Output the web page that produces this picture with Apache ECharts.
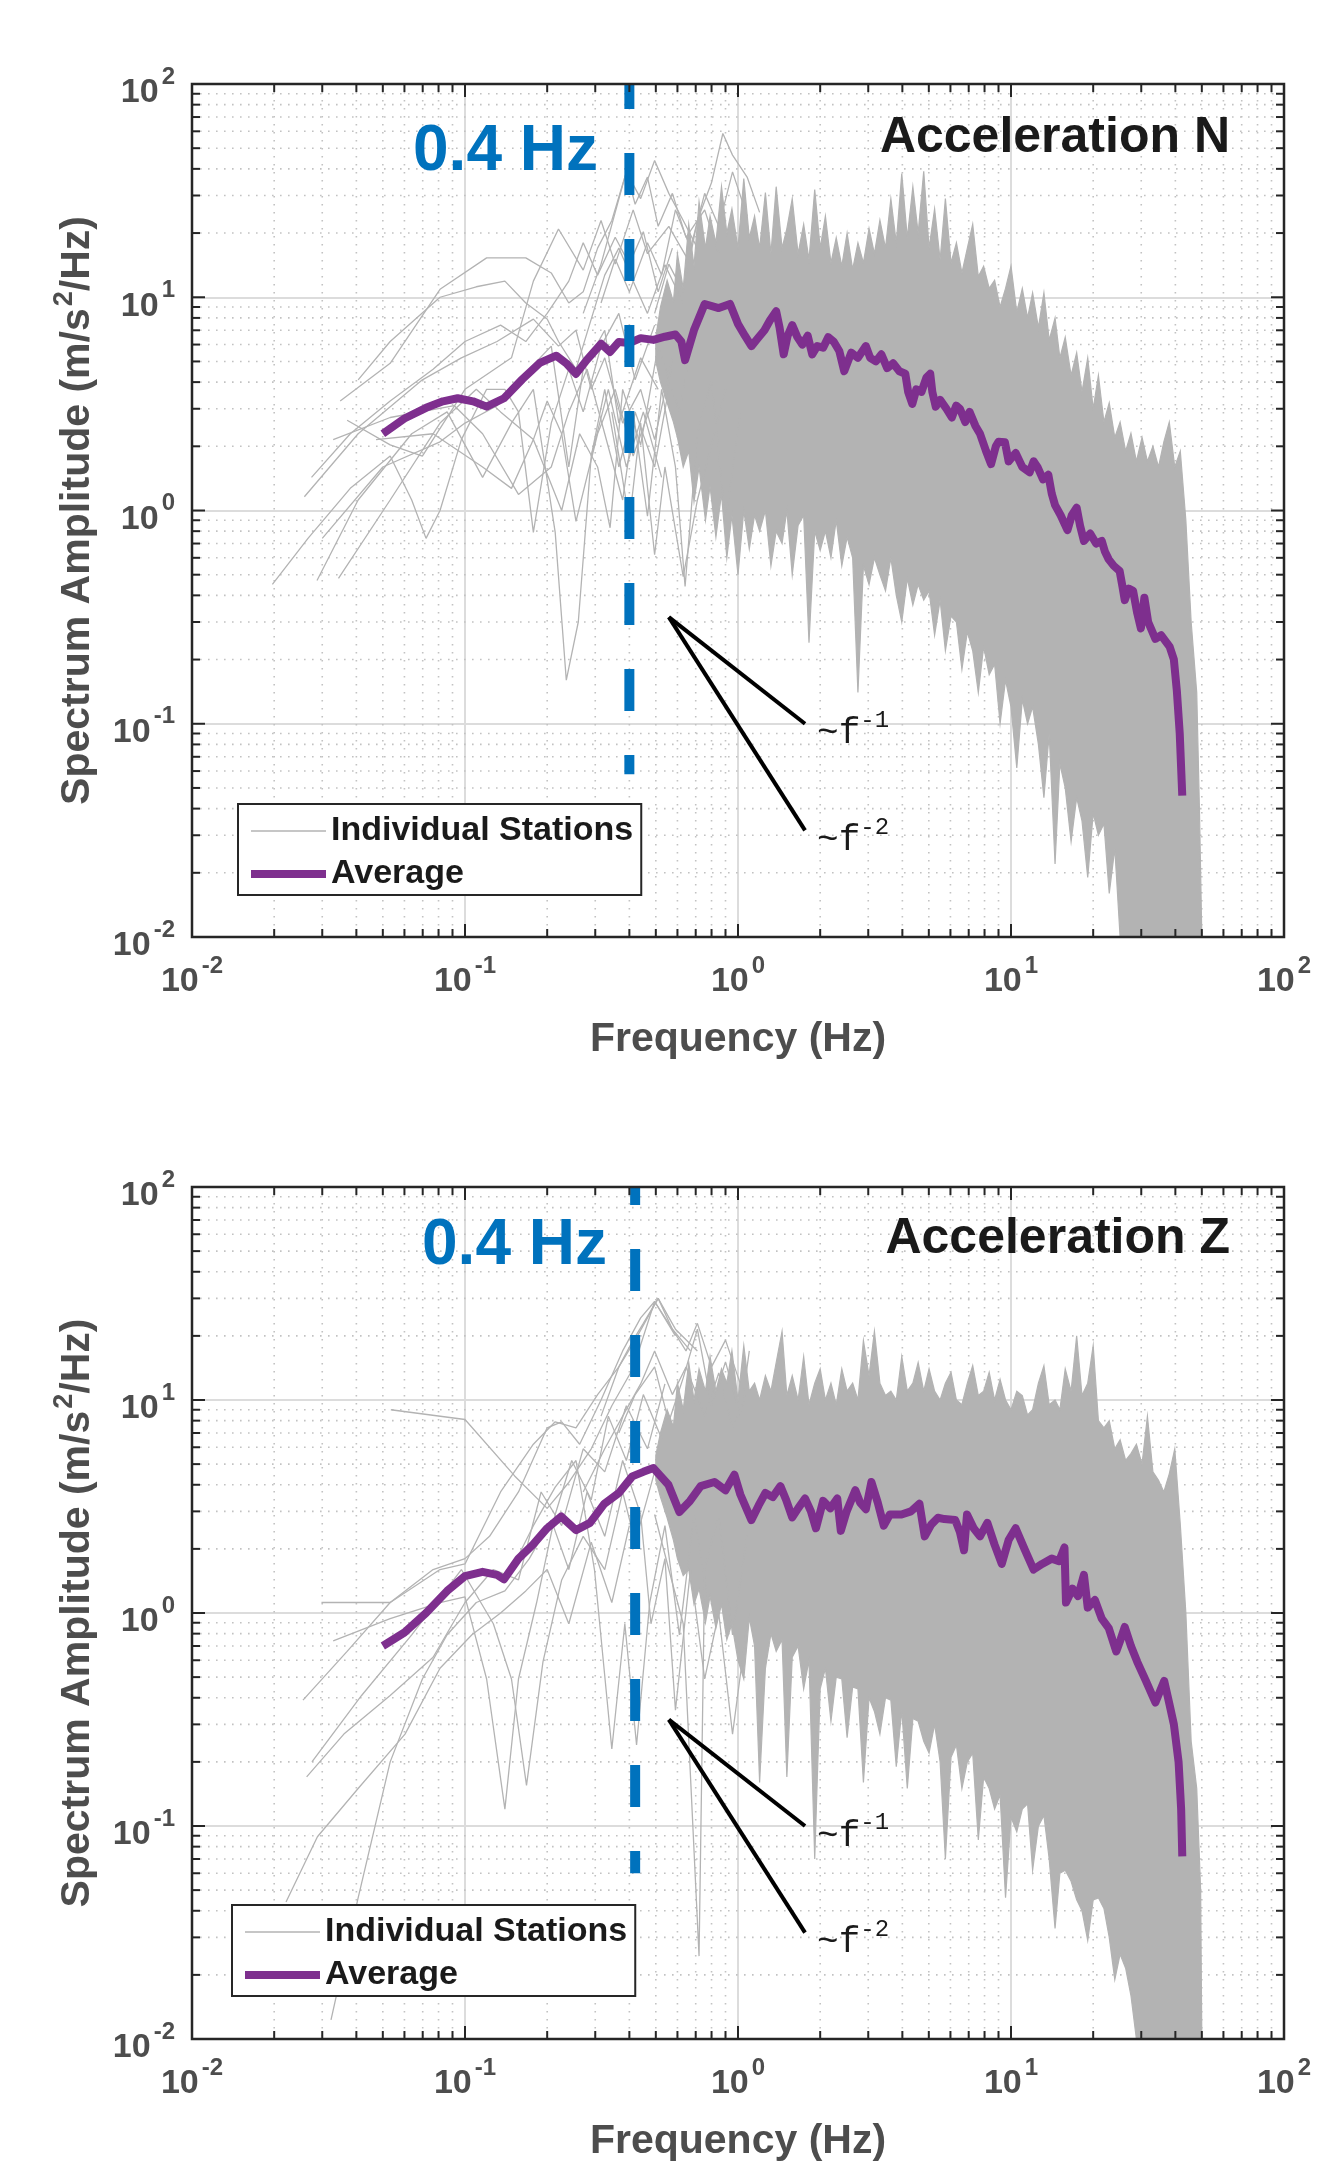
<!DOCTYPE html>
<html lang="en">
<head>
<meta charset="UTF-8" />
<title>Spectrum Amplitude - Acceleration N / Z</title>
<style>
  * { margin: 0; padding: 0; }
  body { background: #fff; }
  #main { width: 1317px; height: 2167px; }
</style>
</head>
<body>
<div id="main"></div>
<script src="https://cdn.jsdelivr.net/npm/echarts@6/dist/echarts.min.js"></script>
<script>
// ---- data: [frequency Hz, amplitude m/s^2/Hz] ----

// average curves
var avgN = [[0.05,2.29],[0.06,2.7],[0.072,3.03],[0.083,3.25],[0.094,3.36],[0.107,3.25],[0.12,3.07],[0.139,3.36],[0.162,4.12],[0.188,4.92],[0.216,5.32],[0.235,4.9],[0.255,4.37],[0.279,5.07],[0.315,6.05],[0.34,5.54],[0.366,6.17],[0.4,6.1],[0.44,6.43],[0.49,6.31],[0.54,6.53],[0.59,6.69],[0.62,6.2],[0.64,5.07],[0.69,7.02],[0.755,9.3],[0.85,8.9],[0.935,9.3],[1.0,7.5],[1.06,6.6],[1.12,5.9],[1.18,6.4],[1.25,7.0],[1.31,7.8],[1.38,8.6],[1.42,7.2],[1.47,5.4],[1.52,6.6],[1.58,7.4],[1.65,6.5],[1.72,6.0],[1.8,6.6],[1.87,5.4],[1.95,5.9],[2.05,5.8],[2.14,6.5],[2.24,6.2],[2.35,5.6],[2.45,4.5],[2.6,5.5],[2.75,5.2],[2.94,5.9],[3.05,5.2],[3.2,5.0],[3.35,5.4],[3.52,4.65],[3.7,4.9],[3.9,4.5],[4.1,4.38],[4.2,3.6],[4.35,3.16],[4.5,3.7],[4.7,3.6],[4.9,4.2],[5.06,4.38],[5.15,3.6],[5.3,3.07],[5.5,3.3],[5.8,3.0],[6.07,2.73],[6.3,3.1],[6.5,3.0],[6.8,2.6],[7.05,2.9],[7.4,2.5],[7.7,2.29],[8.1,1.9],[8.45,1.65],[8.8,2.0],[9.0,2.1],[9.5,2.09],[9.8,1.7],[10.4,1.86],[11.0,1.6],[11.7,1.51],[12.1,1.7],[12.5,1.6],[13.1,1.4],[13.7,1.47],[14.1,1.2],[14.5,1.06],[15.2,0.95],[16.1,0.81],[16.7,0.95],[17.4,1.03],[17.9,0.85],[18.5,0.72],[19.5,0.78],[20.5,0.7],[21.5,0.72],[22.1,0.64],[22.8,0.59],[23.8,0.55],[25,0.52],[25.6,0.44],[26.1,0.38],[27,0.43],[28,0.42],[29,0.33],[29.9,0.28],[30.8,0.39],[31.8,0.3],[33.8,0.25],[35.5,0.26],[38.1,0.23],[39.5,0.2],[40.5,0.143],[41.5,0.09],[42.4,0.046]];
var avgZ = [[0.05,0.70],[0.06,0.81],[0.072,1.0],[0.086,1.27],[0.1,1.49],[0.116,1.56],[0.131,1.51],[0.139,1.44],[0.157,1.8],[0.177,2.09],[0.2,2.5],[0.225,2.84],[0.255,2.45],[0.287,2.65],[0.324,3.26],[0.366,3.66],[0.41,4.38],[0.45,4.6],[0.49,4.79],[0.556,4.0],[0.61,2.98],[0.667,3.36],[0.73,3.94],[0.82,4.12],[0.9,3.77],[0.97,4.46],[1.02,3.6],[1.12,2.73],[1.19,3.2],[1.26,3.66],[1.34,3.5],[1.43,3.94],[1.5,3.4],[1.58,2.81],[1.66,3.1],[1.76,3.45],[1.85,3.0],[1.93,2.5],[2.05,3.36],[2.18,3.1],[2.31,3.45],[2.38,2.43],[2.5,3.0],[2.69,3.77],[2.8,3.3],[2.94,3.07],[3.08,4.12],[3.25,3.3],[3.42,2.57],[3.6,2.9],[3.97,2.9],[4.3,3.0],[4.62,3.26],[4.83,2.29],[5.1,2.6],[5.4,2.8],[5.7,2.76],[6.25,2.73],[6.5,2.4],[6.73,1.97],[6.9,2.9],[7.3,2.5],[7.7,2.29],[8.19,2.65],[8.7,2.1],[9.25,1.7],[9.8,2.2],[10.4,2.5],[11.2,2.0],[12.1,1.6],[13.0,1.7],[14.1,1.8],[15.0,1.75],[15.7,2.03],[15.9,1.12],[16.8,1.3],[17.6,1.2],[18.5,1.51],[19.1,1.06],[20.3,1.15],[21.5,0.94],[22.8,0.85],[24.3,0.66],[25.2,0.75],[26.1,0.86],[27.5,0.7],[29,0.59],[31.2,0.48],[33.8,0.38],[36.4,0.48],[38.1,0.37],[39.5,0.3],[41.1,0.2],[42,0.12],[42.4,0.072]];

// dense cloud of station spectra above ~0.5 Hz: upper and lower outline
var bandTopN = [[0.5,6.5],[0.52,9],[0.55,12],[0.58,9.5],[0.6,16],[0.63,11],[0.66,22],[0.69,14],[0.72,28],[0.76,17],[0.79,24],[0.83,18],[0.87,33],[0.91,20],[0.95,26],[1.0,17],[1.05,36],[1.1,19],[1.15,24],[1.2,17],[1.26,31],[1.32,16],[1.38,33],[1.45,17],[1.51,21],[1.58,29],[1.66,16],[1.74,22],[1.82,15],[1.91,32],[2.0,17],[2.09,24],[2.19,14.5],[2.29,19],[2.4,14],[2.51,20],[2.63,13.5],[2.75,18],[2.88,14.5],[3.02,21],[3.16,16],[3.31,23],[3.47,17],[3.63,29],[3.8,18],[3.98,38],[4.17,19],[4.37,33],[4.57,20],[4.79,39],[5.01,17],[5.25,26],[5.5,15],[5.75,29],[6.03,14.5],[6.31,18],[6.61,13],[6.92,17],[7.24,22],[7.59,12.5],[7.94,14],[8.32,11],[8.71,12],[9.12,9],[9.55,11],[10,14],[10.5,8.5],[11,11],[11.5,8],[12,10.5],[12.6,7.2],[13.2,10.5],[13.8,6.3],[14.5,8],[15.1,5.2],[15.8,6.5],[16.6,4.3],[17.4,5.5],[18.2,3.6],[19.1,5.2],[20,3.0],[20.9,4.3],[21.9,2.6],[22.9,3.2],[24,2.2],[25.1,2.6],[26.3,1.9],[27.5,2.3],[28.8,1.7],[30.2,2.2],[31.6,1.7],[33.1,2.0],[34.7,1.6],[36.3,2.1],[38,2.6],[39.8,1.6],[41.7,1.9],[43.7,0.9],[45.7,0.3],[47.9,0.14],[49,0.04],[50,0.01]];
var bandLowN = [[0.5,5.0],[0.52,4],[0.55,3.2],[0.58,2.6],[0.6,2.2],[0.63,1.6],[0.66,1.9],[0.69,1.1],[0.72,1.6],[0.76,0.9],[0.79,1.3],[0.83,0.75],[0.87,1.2],[0.91,0.6],[0.95,0.95],[1.0,0.5],[1.05,1.0],[1.1,0.66],[1.15,0.95],[1.2,0.8],[1.26,1.0],[1.32,0.55],[1.38,0.8],[1.45,0.7],[1.51,1.0],[1.58,0.5],[1.66,0.85],[1.74,0.95],[1.82,0.24],[1.91,0.8],[2.0,0.65],[2.09,0.8],[2.19,0.6],[2.29,0.9],[2.4,0.55],[2.51,0.75],[2.63,0.6],[2.75,0.14],[2.88,0.55],[3.02,0.45],[3.16,0.6],[3.31,0.5],[3.47,0.42],[3.63,0.6],[3.8,0.4],[3.98,0.3],[4.17,0.48],[4.37,0.36],[4.57,0.45],[4.79,0.38],[5.01,0.42],[5.25,0.26],[5.5,0.38],[5.75,0.22],[6.03,0.32],[6.31,0.3],[6.61,0.18],[6.92,0.27],[7.24,0.22],[7.59,0.14],[7.94,0.23],[8.32,0.17],[8.71,0.19],[9.12,0.1],[9.55,0.16],[10,0.12],[10.5,0.062],[11,0.13],[11.5,0.1],[12,0.12],[12.6,0.08],[13.2,0.045],[13.8,0.09],[14.5,0.022],[15.1,0.065],[15.8,0.05],[16.6,0.028],[17.4,0.045],[18.2,0.035],[19.1,0.019],[20,0.038],[20.9,0.03],[21.9,0.034],[22.9,0.016],[24,0.026],[25.1,0.01],[50,0.01]];
var bandTopZ = [[0.5,5.5],[0.52,7],[0.55,9],[0.58,7.5],[0.6,12],[0.63,9],[0.66,15],[0.69,10],[0.72,14],[0.76,11],[0.79,16],[0.83,11],[0.87,14],[0.91,12],[0.95,17],[1.0,10],[1.05,18],[1.1,11],[1.15,12],[1.2,10],[1.26,13],[1.32,11],[1.38,15],[1.45,21],[1.51,10.5],[1.58,13],[1.66,10],[1.74,16],[1.82,9.5],[1.91,12],[2.0,14],[2.09,10],[2.19,12],[2.29,9.5],[2.4,14],[2.51,11],[2.63,12],[2.75,10],[2.88,19],[3.02,13],[3.16,21],[3.31,12],[3.47,10.5],[3.63,11],[3.8,10],[3.98,16],[4.17,11],[4.37,12],[4.57,15],[4.79,11],[5.01,14],[5.25,11],[5.5,10],[5.75,12],[6.03,13.5],[6.31,10],[6.61,9.5],[6.92,12],[7.24,14.5],[7.59,10.5],[7.94,11],[8.32,13.5],[8.71,10],[9.12,12.5],[9.55,10],[10,9],[10.5,11],[11,10.5],[11.5,8.5],[12,9],[12.6,12],[13.2,14.5],[13.8,9.5],[14.5,10],[15.1,9],[15.8,14],[16.6,11],[17.4,20],[18.2,10.5],[19.1,12],[20,18],[20.9,8],[21.9,7.4],[22.9,8],[24,5.9],[25.1,6.5],[26.3,5.2],[27.5,5.6],[28.8,6.2],[30.2,5],[31.6,8.4],[33.1,4.6],[34.7,4.2],[36.3,3.7],[38,4.5],[39.8,5.9],[41.7,2.6],[43.7,1.0],[45.7,0.25],[47.9,0.15],[49.5,0.05],[50,0.01]];
var bandLowZ = [[0.5,4.2],[0.52,3.5],[0.55,2.8],[0.58,2.2],[0.6,1.8],[0.63,1.5],[0.66,1.6],[0.69,1.1],[0.72,1.3],[0.76,0.9],[0.79,1.2],[0.83,0.85],[0.87,1.1],[0.91,0.75],[0.95,0.89],[1.0,0.6],[1.05,0.49],[1.1,0.95],[1.15,0.7],[1.2,0.16],[1.26,0.55],[1.32,0.8],[1.38,0.66],[1.45,0.75],[1.51,0.17],[1.58,0.62],[1.66,0.7],[1.74,0.44],[1.82,0.6],[1.91,0.07],[2.0,0.44],[2.09,0.55],[2.19,0.31],[2.29,0.5],[2.4,0.49],[2.51,0.26],[2.63,0.45],[2.75,0.44],[2.88,0.16],[3.02,0.4],[3.16,0.345],[3.31,0.27],[3.47,0.4],[3.63,0.39],[3.8,0.19],[3.98,0.35],[4.17,0.15],[4.37,0.32],[4.57,0.31],[4.79,0.25],[5.01,0.22],[5.25,0.3],[5.5,0.2],[5.75,0.07],[6.03,0.21],[6.31,0.24],[6.61,0.15],[6.92,0.2],[7.24,0.22],[7.59,0.086],[7.94,0.17],[8.32,0.15],[8.71,0.12],[9.12,0.14],[9.55,0.046],[10,0.11],[10.5,0.094],[11,0.12],[11.5,0.127],[12,0.062],[12.6,0.1],[13.2,0.112],[13.8,0.07],[14.5,0.033],[15.1,0.06],[15.8,0.062],[16.6,0.055],[17.4,0.045],[18.2,0.04],[19.1,0.029],[20,0.045],[20.9,0.046],[21.9,0.041],[22.9,0.03],[24,0.019],[25.1,0.025],[26.3,0.0215],[27.5,0.016],[28.8,0.01],[50,0.01]];

// individual station lines, low-frequency part (N)
var stationsN = [
  [[0.0349,3.26],[0.0532,4.9],[0.081,10.9],[0.12,15.3],[0.167,15.3],[0.207,13],[0.24,9.4],[0.271,10.6],[0.306,17],[0.345,22.9],[0.39,38.7],[0.44,29],[0.495,43.8],[0.558,30.7],[0.63,22.9],[0.71,17]],
  [[0.0406,4.1],[0.0532,6.2],[0.081,10],[0.11,11.2],[0.14,11.9],[0.167,9.4],[0.2,7.9],[0.22,6.2],[0.255,4.6],[0.29,7.9],[0.325,12.7],[0.366,17],[0.413,11.9],[0.466,8.4],[0.54,14.2],[0.63,9.4]],
  [[0.0274,1.43],[0.038,2.29],[0.0532,3.26],[0.0764,4.6],[0.1,6.2],[0.135,7.4],[0.167,6.2],[0.2,8.4],[0.24,11.9],[0.271,18],[0.306,12.7],[0.355,19.1],[0.40,14.3],[0.45,20.3],[0.51,10.6],[0.575,17]],
  [[0.0197,0.45],[0.0266,0.74],[0.038,1.27],[0.0532,1.8],[0.0638,1.12],[0.072,0.74],[0.081,1.0],[0.097,2.15],[0.12,3.7],[0.14,3.7],[0.157,2.9],[0.178,0.79],[0.207,2.57],[0.24,4.6],[0.271,2.9],[0.315,5.9],[0.366,8.4],[0.42,4.1],[0.495,7.4]],
  [[0.0258,1.16],[0.0406,2.29],[0.0698,4.1],[0.097,5.2],[0.131,6.2],[0.178,7.9],[0.22,5.9],[0.255,7.0],[0.29,3.7],[0.325,5.2],[0.378,2.57],[0.44,3.7],[0.495,2.15],[0.575,5.2]],
  [[0.0287,0.47],[0.0406,1.12],[0.0638,2.29],[0.086,2.9],[0.116,1.43],[0.148,2.57],[0.178,3.7],[0.214,0.79],[0.235,0.16],[0.26,0.30],[0.29,1.8],[0.335,3.7],[0.39,1.6],[0.45,2.9],[0.525,1.43]],
  [[0.0344,0.48],[0.0532,1.12],[0.081,2.57],[0.11,3.7],[0.135,2.9],[0.178,2.15],[0.2,3.26],[0.226,2.29],[0.255,0.89],[0.306,2.29],[0.355,3.7],[0.413,1.8],[0.48,3.1]],
  [[0.030,0.74],[0.050,1.6],[0.081,2.1],[0.1,2.57],[0.131,3.1],[0.172,4.6],[0.207,5.9],[0.24,1.6],[0.271,4.6],[0.325,7.0],[0.366,2.57],[0.44,5.2],[0.51,3.7]],
  [[0.037,2.65],[0.0532,2.03],[0.0698,1.8],[0.1,3.7],[0.148,5.2],[0.178,11.9],[0.22,20.9],[0.271,13.4],[0.315,22.9],[0.355,14.3],[0.413,25.7],[0.466,16],[0.558,21.5],[0.67,14.3]],
  [[0.0329,2.15],[0.0532,2.73],[0.0914,3.1],[0.116,2.29],[0.157,1.19],[0.207,1.6],[0.24,2.9],[0.28,4.6],[0.325,2.29],[0.378,1.12],[0.42,2.9],[0.495,1.6],[0.575,4.6]],
  [[0.0472,2.15],[0.0764,2.29],[0.116,1.6],[0.148,1.27],[0.178,2.15],[0.226,1.0],[0.263,2.29],[0.306,1.6],[0.34,0.83],[0.378,3.7],[0.44,2.03],[0.51,5.9],[0.61,2.9],[0.71,8.4]],
  [[0.29,1.8],[0.325,3.7],[0.366,1.6],[0.413,2.9],[0.466,0.94],[0.525,3.7],[0.59,1.6],[0.64,0.44],[0.71,2.3],[0.8,4.1],[0.9,0.89],[1.02,2.9]],
  [[0.315,9.4],[0.355,15.1],[0.40,10.6],[0.466,18],[0.525,12.7],[0.59,25.7],[0.67,17],[0.755,30.7],[0.85,21.5],[0.955,38.7],[1.08,24]],
  [[0.495,8.4],[0.558,14.3],[0.63,10.6],[0.71,22.9],[0.8,34.5],[0.88,58.6],[0.955,46.4],[1.08,36.6],[1.2,25]],
  [[0.271,8.4],[0.315,14.3],[0.366,28.9],[0.39,38.7],[0.42,27.3],[0.466,36.6],[0.51,21.5],[0.575,30.7],[0.645,19.1],[0.755,25.7],[0.85,16]],
  [[0.345,2.9],[0.40,0.89],[0.44,2.57],[0.495,0.62],[0.54,1.6],[0.63,0.49],[0.71,1.12],[0.8,2.03],[0.9,3.7]]
];
// individual station lines, low-frequency part (Z)
var stationsZ = [
  [[0.0535,9.0],[0.1,8.1],[0.152,4.4],[0.2,3.1],[0.24,4.1],[0.29,5.9],[0.345,9.4],[0.413,14.1],[0.495,29],[0.575,21.5],[0.67,17]],
  [[0.0298,1.12],[0.0532,1.12],[0.081,1.6],[0.1,1.7],[0.135,3.7],[0.178,6.2],[0.214,7.9],[0.255,7.4],[0.306,10.6],[0.366,14.3],[0.42,19.1],[0.51,30],[0.59,21.5],[0.71,17]],
  [[0.0255,0.39],[0.037,0.66],[0.0532,1.12],[0.0764,1.6],[0.1,1.8],[0.123,2.29],[0.157,3.7],[0.2,7.4],[0.226,7.9],[0.263,6.2],[0.315,10],[0.378,17],[0.44,24.3],[0.495,29],[0.59,20]],
  [[0.0263,0.17],[0.036,0.27],[0.0532,0.41],[0.0764,0.62],[0.1,1.12],[0.127,1.6],[0.157,1.43],[0.19,3.7],[0.226,2.57],[0.271,5.9],[0.325,4.6],[0.39,9.4],[0.466,5.9],[0.54,11.9]],
  [[0.0329,0.74],[0.0532,0.94],[0.081,1.12],[0.1,1.19],[0.12,0.49],[0.14,0.12],[0.157,0.49],[0.183,1.12],[0.214,2.9],[0.246,5.2],[0.29,3.4],[0.335,8.4],[0.39,5.2],[0.45,10.6],[0.525,6.6]],
  [[0.0275,0.2],[0.0418,0.41],[0.0638,0.79],[0.097,1.6],[0.127,0.89],[0.148,0.49],[0.168,0.155],[0.193,0.59],[0.226,1.43],[0.271,2.29],[0.325,1.6],[0.378,3.7],[0.42,2.15],[0.495,4.6]],
  [[0.0323,0.0123],[0.0406,0.046],[0.0532,0.2],[0.0698,0.49],[0.086,0.79],[0.11,1.12],[0.14,1.27],[0.172,1.8],[0.207,2.73],[0.24,1.6],[0.28,3.7],[0.325,2.29],[0.378,5.2],[0.44,2.9]],
  [[0.0221,0.044],[0.0288,0.089],[0.0406,0.15],[0.0603,0.27],[0.081,0.55],[0.106,0.79],[0.135,1.0],[0.167,1.27],[0.2,1.6],[0.24,0.89],[0.29,2.15],[0.345,1.12],[0.4,2.57]],
  [[0.148,1.6],[0.178,2.57],[0.214,3.9],[0.255,5.2],[0.298,1.6],[0.345,0.23],[0.385,0.89],[0.425,0.24],[0.475,1.12],[0.54,2.57],[0.61,0.79],[0.69,2.9],[0.78,1.12]],
  [[0.315,8.4],[0.366,14.3],[0.413,19.1],[0.45,22.9],[0.51,30],[0.575,21.5],[0.645,17],[0.71,22.9],[0.8,14.3],[0.9,19.1],[1.02,11.9]],
  [[0.366,7.0],[0.42,10.6],[0.495,14.3],[0.558,7.9],[0.63,12.7],[0.71,21.5],[0.8,9.4],[0.9,15.1],[1.02,8.4],[1.1,17]],
  [[0.495,2.9],[0.558,1.6],[0.63,0.89],[0.72,0.0245],[0.755,1.6],[0.85,2.9],[0.955,0.79],[1.08,2.3]],
  [[0.44,2.9],[0.48,0.89],[0.54,1.8],[0.59,0.35],[0.67,1.6],[0.755,0.49],[0.85,1.0],[0.955,0.27],[1.08,0.89]],
  [[0.271,3.7],[0.325,5.9],[0.378,8.4],[0.44,11.9],[0.495,17],[0.575,10.6],[0.645,14.3],[0.755,8.4],[0.85,13.4],[0.955,7.4],[1.08,10.6]]
];

// 0.4 Hz marker (frequency, lower end of dashed line)
var cutoffN = [[0.4, 100], [0.4, 0.058]];
var cutoffZ = [[0.42, 100], [0.42, 0.06]];
// slope guides ~f^-1 and ~f^-2
var slope1 = [[0.558, 0.316], [1.76, 0.1]];
var slope2 = [[0.558, 0.316], [1.76, 0.0316]];

// axis ticks
var decadeTicks = [0.01, 0.1, 1, 10, 100];
var minorSteps = [2, 3, 4, 5, 6, 7, 8, 9];

// ---- styling ----
var FONT = '"Liberation Sans", Arial, Helvetica, sans-serif';
var MONO = '"Liberation Mono", "DejaVu Sans Mono", monospace';
var AXIS_COLOR = '#262626';
var LABEL_COLOR = '#4d4d4d';
var GRAY = '#b3b3b3';
var GRAY_LINE = '#b3b3b3';
var PURPLE = '#7e2f8e';
var BLUE = '#0072bd';

var minorValues = [];
decadeTicks.slice(0, 4).forEach(function (d) {
  minorSteps.forEach(function (m) { minorValues.push(+(d * m).toPrecision(3)); });
});

// minor dotted grid lines
function gridData() {
  var d = [];
  minorValues.forEach(function (v) { d.push([v, 1, 0]); d.push([1, v, 1]); });
  return d;
}
function renderMinorGrid(params, api) {
  var cs = params.coordSys;
  var p = api.coord([api.value(0), api.value(1)]);
  var st = { stroke: '#c2c2c2', lineWidth: 1.6, lineDash: [1.6, 6.4] };
  if (api.value(2) === 0) {
    return { type: 'line', shape: { x1: p[0], y1: cs.y, x2: p[0], y2: cs.y + cs.height }, style: st };
  }
  return { type: 'line', shape: { x1: cs.x, y1: p[1], x2: cs.x + cs.width, y2: p[1] }, style: st };
}

// box + inward ticks on all four sides
function frameData() {
  var d = [[1, 1, 2, 0]];
  decadeTicks.forEach(function (v) { d.push([v, 1, 0, 13]); d.push([1, v, 1, 13]); });
  minorValues.forEach(function (v) { d.push([v, 1, 0, 8]); d.push([1, v, 1, 8]); });
  return d;
}
function renderFrame(params, api) {
  var cs = params.coordSys;
  var kind = api.value(2), len = api.value(3);
  var st = { stroke: AXIS_COLOR, lineWidth: 2 };
  if (kind === 2) {
    return { type: 'rect', shape: { x: cs.x, y: cs.y, width: cs.width, height: cs.height },
      style: { fill: 'none', stroke: AXIS_COLOR, lineWidth: 2.5 } };
  }
  var p = api.coord([api.value(0), api.value(1)]);
  if (kind === 0) {
    return { type: 'group', children: [
      { type: 'line', shape: { x1: p[0], y1: cs.y + cs.height, x2: p[0], y2: cs.y + cs.height - len }, style: st },
      { type: 'line', shape: { x1: p[0], y1: cs.y, x2: p[0], y2: cs.y + len }, style: st }
    ] };
  }
  return { type: 'group', children: [
    { type: 'line', shape: { x1: cs.x, y1: p[1], x2: cs.x + len, y2: p[1] }, style: st },
    { type: 'line', shape: { x1: cs.x + cs.width, y1: p[1], x2: cs.x + cs.width - len, y2: p[1] }, style: st }
  ] };
}

// filled cloud between two outlines
function bandRenderer(top, low) {
  return function (params, api) {
    var pts = top.map(function (d) { return api.coord(d); });
    for (var i = low.length - 1; i >= 0; i--) pts.push(api.coord(low[i]));
    return { type: 'polygon', shape: { points: pts }, style: { fill: GRAY, stroke: GRAY, lineWidth: 1.2 } };
  };
}

function powerLabel(v) {
  return '{b|10}{s|' + Math.round(Math.log10(v)) + '}';
}
var tickRich = {
  b: { fontFamily: FONT, fontSize: 34, fontWeight: 'bold', color: LABEL_COLOR },
  s: { fontFamily: FONT, fontSize: 24, fontWeight: 'bold', color: LABEL_COLOR, padding: [0, 0, 32, 3] }
};

function xAxisFor(gi) {
  return {
    type: 'log', logBase: 10, gridIndex: gi, min: 0.01, max: 100, position: 'bottom',
    axisLine: { show: false, onZero: false }, axisTick: { show: false },
    axisLabel: { margin: 17, formatter: powerLabel, rich: tickRich, color: LABEL_COLOR,
      showMinLabel: true, showMaxLabel: true },
    splitLine: { show: true, lineStyle: { color: '#dcdcdc', width: 2 } },
    name: 'Frequency (Hz)', nameLocation: 'middle', nameGap: 82,
    nameTextStyle: { fontFamily: FONT, fontSize: 41, fontWeight: 'bold', color: LABEL_COLOR }
  };
}
function yAxisFor(gi) {
  return {
    type: 'log', logBase: 10, gridIndex: gi, min: 0.01, max: 100, position: 'left',
    axisLine: { show: false, onZero: false }, axisTick: { show: false },
    axisLabel: { margin: 17, formatter: powerLabel, rich: tickRich, color: LABEL_COLOR,
      padding: [18, 0, 0, 0], showMinLabel: true, showMaxLabel: true },
    splitLine: { show: true, lineStyle: { color: '#dcdcdc', width: 2 } },
    name: '{a|Spectrum Amplitude (m/s}{s|2}{a|/Hz)}', nameLocation: 'middle', nameGap: 88, nameRotate: 90,
    nameTextStyle: { rich: {
      a: { fontFamily: FONT, fontSize: 41, fontWeight: 'bold', color: LABEL_COLOR },
      s: { fontFamily: FONT, fontSize: 27, fontWeight: 'bold', color: LABEL_COLOR, padding: [0, 0, 26, 2] }
    } }
  };
}

function slopeSeries(gi, data, txt) {
  return {
    type: 'line', name: 'slope', xAxisIndex: gi, yAxisIndex: gi, data: data,
    symbol: 'none', silent: true, z: 6,
    lineStyle: { color: '#000', width: 4 },
    endLabel: { show: true, distance: 12, offset: [0, 10], formatter: '{m|~f}{s|' + txt + '}',
      rich: {
        m: { fontFamily: MONO, fontSize: 36, color: '#1a1a1a' },
        s: { fontFamily: MONO, fontSize: 24, color: '#1a1a1a', padding: [0, 0, 26, 0] }
      } }
  };
}

function panelSeries(gi, stations, top, low, avg, cutoff) {
  var s = [];
  s.push({ type: 'custom', name: 'minor', xAxisIndex: gi, yAxisIndex: gi, silent: true, z: 1,
    renderItem: renderMinorGrid, data: gridData() });
  s.push({ type: 'custom', name: 'cloud', xAxisIndex: gi, yAxisIndex: gi, silent: true, z: 2,
    renderItem: bandRenderer(top, low), data: [[1, 1]] });
  stations.forEach(function (st) {
    s.push({ type: 'line', name: 'Individual Stations', xAxisIndex: gi, yAxisIndex: gi, data: st,
      symbol: 'none', silent: true, z: 2, lineStyle: { color: GRAY_LINE, width: 1.3 } });
  });
  s.push({ type: 'line', name: 'Average', xAxisIndex: gi, yAxisIndex: gi, data: avg,
    symbol: 'none', silent: true, z: 4, lineStyle: { color: PURPLE, width: 8, join: 'round' } });
  s.push({ type: 'line', name: 'cutoff', xAxisIndex: gi, yAxisIndex: gi, data: cutoff,
    symbol: 'none', silent: true, z: 5,
    lineStyle: { color: BLUE, width: 10, type: [42, 44], dashOffset: gi === 0 ? 17 : 24 } });
  s.push(slopeSeries(gi, slope1, '-1'));
  s.push(slopeSeries(gi, slope2, '-2'));
  s.push({ type: 'custom', name: 'frame', xAxisIndex: gi, yAxisIndex: gi, silent: true, z: 10,
    renderItem: renderFrame, data: frameData() });
  return s;
}

function legendAt(left, top) {
  return {
    left: left, top: top, orient: 'vertical', selectedMode: false, z: 8,
    backgroundColor: '#fff', borderColor: AXIS_COLOR, borderWidth: 2, borderRadius: 0,
    padding: [10, 8, 4, 9], itemGap: 9, itemWidth: 75, itemHeight: 14,
    itemStyle: { opacity: 0 },
    textStyle: { fontFamily: FONT, fontSize: 34, fontWeight: 'bold', color: '#1a1a1a' },
    data: [
      { name: 'Individual Stations', lineStyle: { width: 1.3, color: GRAY_LINE } },
      { name: 'Average', lineStyle: { width: 8, color: PURPLE } }
    ]
  };
}

function label(text, pos, size, color) {
  var el = { type: 'text', z: 20, silent: true,
    style: { text: text, font: 'bold ' + size + 'px ' + FONT, fill: color } };
  Object.keys(pos).forEach(function (k) { el[k] = pos[k]; });
  return el;
}

var chart = echarts.init(document.getElementById('main'), null, { renderer: 'canvas' });
chart.setOption({
  animation: false,
  backgroundColor: '#fff',
  grid: [
    { left: 192, top: 84, width: 1092, height: 853, outerBoundsMode: 'none' },
    { left: 192, top: 1187, width: 1092, height: 852, outerBoundsMode: 'none' }
  ],
  xAxis: [xAxisFor(0), xAxisFor(1)],
  yAxis: [yAxisFor(0), yAxisFor(1)],
  legend: [legendAt(238, 804), legendAt(232, 1905)],
  graphic: [
    label('0.4 Hz', { left: 413, top: 120 }, 64, BLUE),
    label('Acceleration N', { right: 87, top: 113 }, 50, '#1a1a1a'),
    label('0.4 Hz', { left: 422, top: 1214 }, 64, BLUE),
    label('Acceleration Z', { right: 87, top: 1214 }, 50, '#1a1a1a')
  ],
  series: panelSeries(0, stationsN, bandTopN, bandLowN, avgN, cutoffN)
    .concat(panelSeries(1, stationsZ, bandTopZ, bandLowZ, avgZ, cutoffZ))
});
</script>
</body>
</html>
